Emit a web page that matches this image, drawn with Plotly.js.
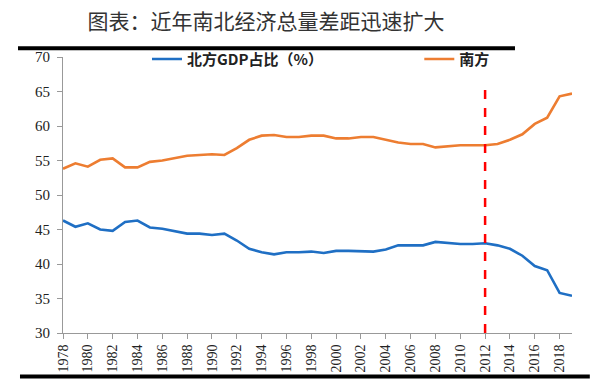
<!DOCTYPE html>
<html>
<head>
<meta charset="utf-8">
<script src="https://cdn.plot.ly/plotly-3.0.1.min.js"></script>
<style>html,body{margin:0;padding:0;background:#fff}#chart{width:600px;height:384px}</style>
</head>
<body>
<div id="chart"></div>
<script>
const years = [1978,1979,1980,1981,1982,1983,1984,1985,1986,1987,1988,1989,1990,1991,1992,1993,1994,1995,1996,1997,1998,1999,2000,2001,2002,2003,2004,2005,2006,2007,2008,2009,2010,2011,2012,2013,2014,2015,2016,2017,2018,2019];
const north = [46.3,45.4,45.9,45.0,44.8,46.1,46.3,45.3,45.1,44.8,44.4,44.4,44.2,44.4,43.4,42.2,41.7,41.4,41.7,41.7,41.8,41.6,41.9,41.9,41.8,41.8,42.1,42.7,42.7,42.7,43.2,43.0,42.9,42.9,43.0,42.7,42.2,41.2,39.7,39.1,35.8,35.4];
const south = [53.8,54.6,54.1,55.1,55.3,54.0,54.0,54.8,55.0,55.3,55.7,55.8,55.9,55.8,56.8,58.0,58.6,58.7,58.4,58.4,58.6,58.6,58.2,58.2,58.4,58.4,58.0,57.6,57.4,57.4,56.9,57.1,57.2,57.2,57.2,57.4,58.0,58.8,60.3,61.2,64.3,64.7];
const seriesNames = ["北方GDP占比（%）", "南方"];
const titleText = "图表：近年南北经济总量差距迅速扩大";
const markYear = 2012;
const markTop = 66.2;

const traces = [
  {x: years, y: north, name: seriesNames[0], type: "scatter", mode: "lines", legend: "legend",
   line: {color: "#1f6fc4", width: 2.6}},
  {x: years, y: south, name: seriesNames[1], type: "scatter", mode: "lines", legend: "legend2",
   line: {color: "#ed7d31", width: 2.6}}
];

const serif = "Liberation Serif";
const legFont = {family: "Noto Sans CJK SC", size: 15, color: "#222", weight: "bold"};

const layout = {
  width: 600, height: 384,
  margin: {l: 63, r: 28, t: 57, b: 51},
  paper_bgcolor: "#fff", plot_bgcolor: "#fff",
  showlegend: true,
  title: {text: titleText, x: 266/600, xanchor: "center", xref: "container",
          y: 1 - 22/384, yanchor: "middle", yref: "container",
          font: {family: "Noto Sans CJK SC", size: 21, color: "#333"}},
  legend: {orientation: "h", x: 0.165, xanchor: "left", y: 0.992, yanchor: "middle",
           font: legFont, bgcolor: "rgba(0,0,0,0)"},
  legend2: {orientation: "h", x: 0.700, xanchor: "left", y: 0.992, yanchor: "middle",
           font: legFont, bgcolor: "rgba(0,0,0,0)"},
  xaxis: {type: "linear", range: [1978, 2019], tick0: 1978, dtick: 2,
          tickangle: -90, ticks: "outside", ticklen: 5, tickcolor: "#999",
          showline: true, linecolor: "#999", linewidth: 1, showgrid: false, zeroline: false,
          tickfont: {family: serif, size: 14, color: "#222"}},
  yaxis: {range: [30, 70], dtick: 5, tick0: 30, ticks: "outside", ticklen: 5, tickcolor: "#999",
          showline: true, linecolor: "#999", linewidth: 1, showgrid: false, zeroline: false,
          tickfont: {family: serif, size: 15, color: "#222"}, ticklabelstandoff: 4},
  shapes: [
    {type: "line", xref: "x", yref: "y", x0: markYear, x1: markYear, y0: 30, y1: markTop,
     line: {color: "#ff0000", width: 2.5, dash: "dash"}},
    {type: "line", xref: "paper", yref: "paper", x0: -0.0884, x1: 0.888, y0: 1.0315, y1: 1.0315,
     line: {color: "#000", width: 4}},
    {type: "line", xref: "paper", yref: "paper", x0: -0.0845, x1: 1.035, y0: -0.158, y1: -0.158,
     line: {color: "#000", width: 4}}
  ]
};

Plotly.newPlot("chart", traces, layout, {displayModeBar: false, staticPlot: true});
</script>
</body>
</html>
